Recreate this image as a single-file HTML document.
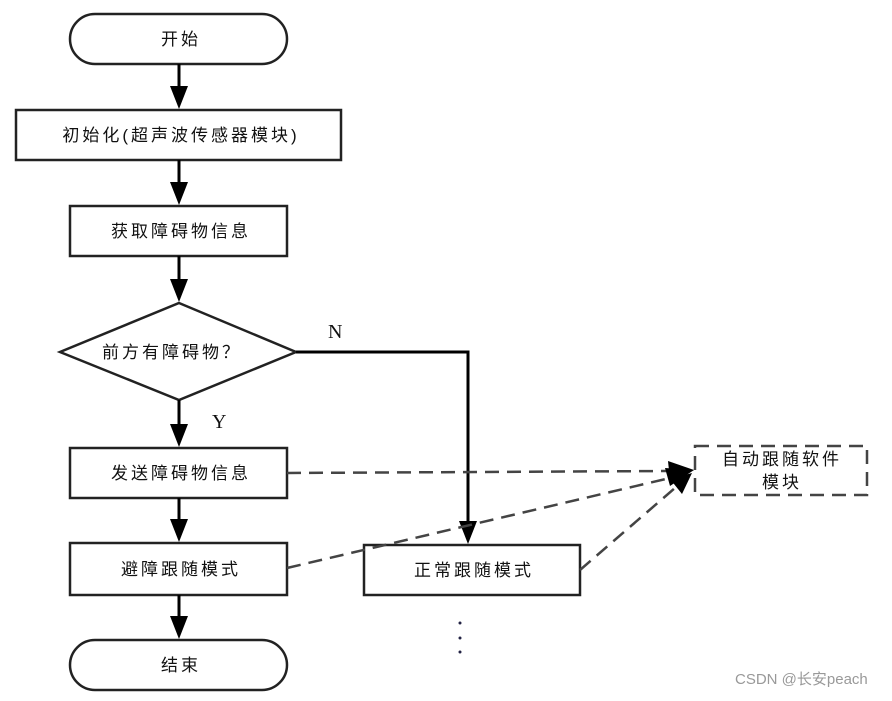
<!DOCTYPE html>
<html><head><meta charset="utf-8"><style>
body{margin:0;background:#fff;}
svg text{font-family:"Liberation Sans","Noto Sans CJK SC",sans-serif;font-size:17px;fill:#111;}
.w{letter-spacing:3px;}
</style></head><body>
<svg width="892" height="696" viewBox="0 0 892 696" xmlns="http://www.w3.org/2000/svg">
<g stroke="#222" stroke-width="2.5" fill="#fff">
<rect x="70" y="14" width="217" height="50" rx="25"/>
<rect x="16" y="110" width="325" height="50"/>
<rect x="70" y="206" width="217" height="50"/>
<polygon points="179,303 296,352 179,400 60,352"/>
<rect x="70" y="448" width="217" height="50"/>
<rect x="70" y="543" width="217" height="52"/>
<rect x="364" y="545" width="216" height="50"/>
<rect x="70" y="640" width="217" height="50" rx="25"/>
</g>
<g stroke="#000" stroke-width="3" fill="none">
<line x1="179" y1="64" x2="179" y2="87"/><polygon points="170,86 188,86 179,109" fill="#000" stroke="none"/>
<line x1="179" y1="160" x2="179" y2="183"/><polygon points="170,182 188,182 179,205" fill="#000" stroke="none"/>
<line x1="179" y1="256" x2="179" y2="280"/><polygon points="170,279 188,279 179,302" fill="#000" stroke="none"/>
<line x1="179" y1="400" x2="179" y2="425"/><polygon points="170,424 188,424 179,447" fill="#000" stroke="none"/>
<line x1="179" y1="498" x2="179" y2="520"/><polygon points="170,519 188,519 179,542" fill="#000" stroke="none"/>
<line x1="179" y1="595" x2="179" y2="617"/><polygon points="170,616 188,616 179,639" fill="#000" stroke="none"/>
<polyline points="296,352 468,352 468,522"/><polygon points="459,521 477,521 468,544" fill="#000" stroke="none"/>
</g>
<g stroke="#444" stroke-width="2.5" stroke-dasharray="14,8" fill="none">
<rect x="695" y="446" width="172" height="49"/>
<line x1="287" y1="473" x2="670" y2="471"/>
<line x1="287" y1="568" x2="670" y2="478"/>
<line x1="580" y1="570" x2="675" y2="488"/>
</g>
<polygon points="668,461 694,470 670,480" fill="#000"/>
<polygon points="665,468 694,470 670,486" fill="#000"/>
<polygon points="670,479 692,473 682,494" fill="#000"/>
<g text-anchor="middle" class="w">
<text x="181" y="45">开始</text>
<text x="181" y="141">初始化(超声波传感器模块)</text>
<text x="181" y="237">获取障碍物信息</text>
<text x="172" y="358">前方有障碍物？</text>
<text x="181" y="479">发送障碍物信息</text>
<text x="181" y="575">避障跟随模式</text>
<text x="474" y="576">正常跟随模式</text>
<text x="181" y="671">结束</text>
<text x="782" y="465">自动跟随软件</text>
<text x="782" y="488">模块</text>
</g>
<text x="328" y="338" style="font-family:'Liberation Serif',serif;font-size:20px">N</text>
<text x="212" y="428" style="font-family:'Liberation Serif',serif;font-size:20px">Y</text>
<g fill="#224"><circle cx="460" cy="623" r="1.5"/><circle cx="460" cy="638" r="1.5"/><circle cx="460" cy="652" r="1.5"/></g>
<text x="735" y="684" style="font-size:15px;fill:#999">CSDN @长安peach</text>
</svg>
</body></html>
